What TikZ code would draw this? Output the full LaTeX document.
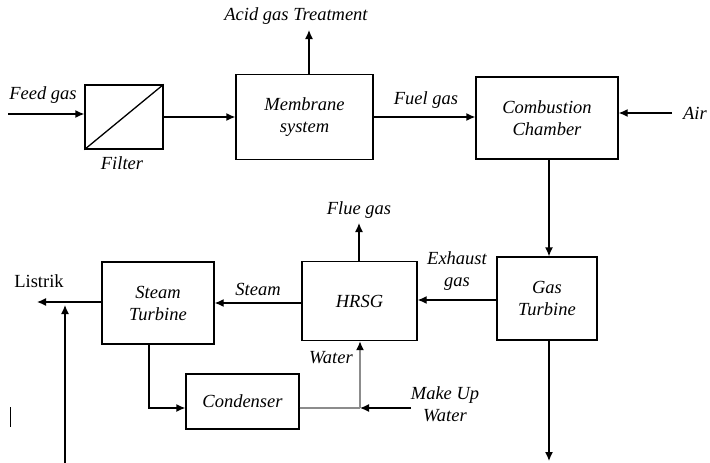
\documentclass[tikz,border=0pt]{standalone}
\usepackage{fontspec}
\setmainfont{Liberation Serif}
\usetikzlibrary{arrows.meta}
\begin{document}
\begin{tikzpicture}[x=1pt,y=-1pt,
  every node/.style={font=\fontsize{18.5}{22}\selectfont\itshape},
  box/.style={draw,line width=1.3pt,align=center,inner sep=0pt},
  lbl/.style={align=center,inner sep=0pt},
  ln/.style={line width=1.3pt},
  arr/.style={line width=1.3pt,-{Latex[length=9pt,width=8pt]}},
  gln/.style={line width=1.6pt,draw=black!45},
  garr/.style={line width=1.6pt,draw=black!45,-{Latex[length=9pt,width=8pt,fill=black,color=black]}}]
\useasboundingbox (0,0) rectangle (710,463);
% boxes
\node[box,minimum width=78pt,minimum height=64pt] (filter) at (124,117) {};
\draw[ln] (filter.south west) -- (filter.north east);
\node[box,minimum width=137pt,minimum height=85pt] (memb) at (304.5,117) {Membrane\\system};
\node[box,minimum width=142pt,minimum height=82pt] (comb) at (547,118) {Combustion\\Chamber};
\node[box,minimum width=100pt,minimum height=83pt] (gt) at (547,298.5) {Gas\\Turbine};
\node[box,minimum width=115pt,minimum height=79pt] (hrsg) at (359.5,301) {HRSG};
\node[box,minimum width=112pt,minimum height=82pt] (st) at (158,303) {Steam\\Turbine};
\node[box,minimum width=113pt,minimum height=55pt] (cond) at (242.5,401.5) {Condenser};
% labels
\node[lbl] (lfeed) at (43,95) {Feed gas};
\node[lbl] (lfilter) at (122,163) {Filter};
\node[lbl] (lacid) at (296,16) {Acid gas Treatment};
\node[lbl] (lfuel) at (426,100) {Fuel gas};
\node[lbl] (lair) at (695,113) {Air};
\node[lbl] (lflue) at (359,210) {Flue gas};
\node[lbl] (lexh) at (457,271) {Exhaust\\gas};
\node[lbl] (lsteam) at (258,289) {Steam};
\node[lbl,font=\fontsize{18.5}{22}\selectfont\upshape] (llis) at (39,281) {Listrik};
\node[lbl] (lwater) at (331,358) {Water};
\node[lbl] (lmake) at (445,404) {Make Up\\Water};
% free ends
\coordinate (feedS) at (8,114);
\coordinate (acidE) at (309,30);
\coordinate (airS) at (672,113);
\coordinate (gtE) at (549,461);
\coordinate (flueE) at (359,223);
\coordinate (lisE) at (37,302);
\coordinate (lisB) at (65,463);
\coordinate (lisT) at (65,305);
\coordinate (stC) at (149,408);
\coordinate (junc) at (360,408);
\coordinate (makeS) at (411,408);
\coordinate (barA) at (10,407);
\coordinate (barB) at (10,427);
% connectors
\draw[arr] (feedS) -- (feedS -| filter.west);
\draw[arr] (filter.east) -- (filter.east -| memb.west);
\draw[arr] (acidE |- memb.north) -- (acidE);
\draw[arr] (memb.east) -- (memb.east -| comb.west);
\draw[arr] (airS) -- (airS -| comb.east);
\draw[arr] (gtE |- comb.south) -- (gtE |- gt.north);
\draw[arr] (gtE |- gt.south) -- (gtE);
\draw[arr] (gt.west |- 0,300) -- (hrsg.east |- 0,300);
\draw[arr] (flueE |- hrsg.north) -- (flueE);
\draw[arr] (hrsg.west |- 0,303) -- (st.east |- 0,303);
\draw[arr] (st.west |- lisE) -- (lisE);
\draw[arr] (lisB) -- (lisT);
\draw[arr] (stC |- st.south) -- (stC) -- (stC -| cond.west);
\draw[gln] (cond.east |- junc) -- (junc);
\draw[garr] (junc) -- (junc |- hrsg.south);
\draw[arr] (makeS) -- (junc);
\draw[line width=1pt] (barA) -- (barB);
\end{tikzpicture}
\end{document}
